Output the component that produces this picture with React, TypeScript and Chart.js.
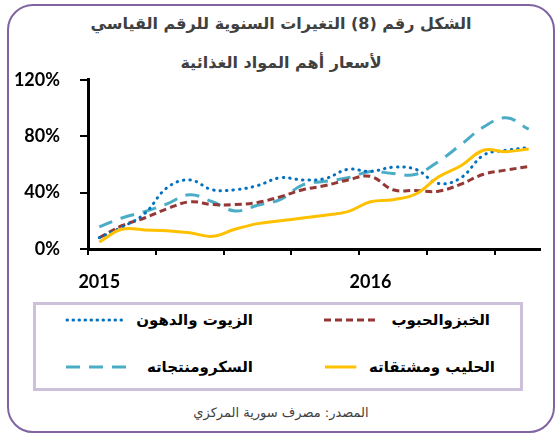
import React, { useEffect, useRef } from "react";
import { Chart, registerables } from "chart.js";

Chart.register(...registerables);

// ---- data ----
const months = [
  "2015-01", "2015-02", "2015-03", "2015-04", "2015-05", "2015-06", "2015-07", "2015-08", "2015-09", "2015-10",
  "2015-11", "2015-12", "2016-01", "2016-02", "2016-03", "2016-04", "2016-05", "2016-06", "2016-07", "2016-08",
];
const yearTickLabels: Record<number, string> = { 0: "2015", 12: "2016" };
const yTicks = [0, 0.4, 0.8, 1.2];

const breadCereals = [0.08, 0.165, 0.22, 0.285, 0.335, 0.315, 0.315, 0.33, 0.37, 0.42, 0.45, 0.49, 0.515, 0.42, 0.415, 0.41, 0.46, 0.53, 0.56, 0.585];
const oilsFats = [0.08, 0.155, 0.25, 0.435, 0.49, 0.42, 0.42, 0.45, 0.505, 0.49, 0.5, 0.565, 0.55, 0.58, 0.565, 0.465, 0.505, 0.665, 0.7, 0.72];
const milkProducts = [0.05, 0.14, 0.135, 0.13, 0.115, 0.09, 0.14, 0.18, 0.2, 0.22, 0.24, 0.265, 0.335, 0.35, 0.39, 0.51, 0.59, 0.7, 0.69, 0.71];
const sugarProducts = [0.157, 0.22, 0.265, 0.32, 0.385, 0.335, 0.27, 0.31, 0.35, 0.455, 0.48, 0.505, 0.55, 0.535, 0.53, 0.62, 0.74, 0.865, 0.93, 0.85];

const seriesNames = ["الخبزوالحبوب", "الزيوت والدهون", "الحليب ومشتقاته", "السكرومنتجاته"];
const titleLines = ["الشكل رقم (8) التغيرات السنوية للرقم القياسي", "لأسعار أهم المواد الغذائية"];
const sourceText = "المصدر: مصرف سورية المركزي";

const COLORS = {
  bread: "#953735",
  oils: "#0070C0",
  milk: "#FFC000",
  sugar: "#4BACC6",
};

const arabicFont = '"DejaVu Sans", sans-serif';
const numFont = 'Lato, "Open Sans", sans-serif';

function LegendItem({
  label,
  color,
  dash,
  cap,
  left,
  right,
  y,
}: {
  label: string;
  color: string;
  dash?: string;
  cap?: string;
  left: number;
  right: number;
  y: number;
}) {
  return (
    <div
      style={{
        position: "absolute",
        left,
        width: right - left,
        top: y - 12,
        height: 24,
        display: "flex",
        flexDirection: "row",
        alignItems: "center",
        gap: 12,
      }}
    >
      <svg height={8} style={{ flex: 1, minWidth: 0, display: "block" }}>
        <line
          x1={cap === "round" ? 2 : 0}
          y1={4}
          x2="98%"
          y2={4}
          stroke={color}
          strokeWidth={3}
          strokeDasharray={dash}
          strokeLinecap={(cap as any) || "butt"}
        />
      </svg>
      <span
        style={{
          fontFamily: arabicFont,
          fontWeight: "bold",
          fontSize: 15,
          lineHeight: "24px",
          color: "#000",
          whiteSpace: "nowrap",
          direction: "rtl",
        }}
      >
        {label}
      </span>
    </div>
  );
}

export default function App() {
  const canvasRef = useRef<HTMLCanvasElement | null>(null);

  useEffect(() => {
    const canvas = canvasRef.current;
    if (!canvas) return;
    const chart = new Chart(canvas, {
      type: "line",
      data: {
        labels: months,
        datasets: [
          {
            label: seriesNames[2],
            data: milkProducts,
            borderColor: COLORS.milk,
            borderWidth: 3,
            pointRadius: 0,
            tension: 0.4,
            fill: false,
          },
          {
            label: seriesNames[1],
            data: oilsFats,
            borderColor: COLORS.oils,
            borderWidth: 3,
            borderDash: [0.5, 6],
            borderCapStyle: "round",
            pointRadius: 0,
            tension: 0.4,
            fill: false,
          },
          {
            label: seriesNames[0],
            data: breadCereals,
            borderColor: COLORS.bread,
            borderWidth: 3,
            borderDash: [7, 4],
            pointRadius: 0,
            tension: 0.4,
            fill: false,
          },
          {
            label: seriesNames[3],
            data: sugarProducts,
            borderColor: COLORS.sugar,
            borderWidth: 3,
            borderDash: [14, 9],
            pointRadius: 0,
            tension: 0.4,
            fill: false,
          },
        ],
      },
      options: {
        responsive: false,
        animation: false,
        devicePixelRatio: 1,
        layout: { padding: { top: 10, right: 17, left: 0, bottom: 0 } },
        plugins: {
          legend: { display: false },
          title: { display: false },
          tooltip: { enabled: false },
        },
        scales: {
          x: {
            type: "category",
            offset: true,
            afterFit: (scale: any) => {
              scale.height = 51;
            },
            border: { display: true, color: "#000", width: 3 },
            grid: {
              offset: true,
              drawOnChartArea: false,
              drawTicks: true,
              tickLength: 6,
              lineWidth: 2,
              color: (ctx: any) => (ctx.index % 3 === 0 ? "#000" : "rgba(0,0,0,0)"),
            },
            ticks: {
              autoSkip: false,
              maxRotation: 0,
              minRotation: 0,
              padding: 16,
              color: "#000",
              font: { family: numFont, size: 18, weight: "bold" },
              callback: (_v: any, index: number) => yearTickLabels[index] ?? "",
            },
          },
          y: {
            min: 0,
            max: 1.2,
            afterFit: (scale: any) => {
              scale.width = 88;
            },
            afterBuildTicks: (scale: any) => {
              scale.ticks = yTicks.map((v) => ({ value: v }));
            },
            border: { display: true, color: "#000", width: 3 },
            grid: {
              drawOnChartArea: false,
              drawTicks: true,
              tickLength: 8,
              lineWidth: 2,
              color: "#000",
            },
            ticks: {
              padding: 20,
              color: "#000",
              font: { family: numFont, size: 18, weight: "bold" },
              callback: (v: any) => Math.round(Number(v) * 100) + "%",
            },
          },
        },
      },
    });
    return () => chart.destroy();
  }, []);

  return (
    <div style={{ position: "fixed", left: 0, top: 0, width: 557, height: 436, background: "#fff", overflow: "hidden" }}>
      <div
        style={{
          position: "absolute",
          left: 7,
          top: 4,
          width: 548,
          height: 429,
          boxSizing: "border-box",
          border: "2px solid #8064A2",
          borderRadius: 26,
        }}
      />
      <div
        style={{
          position: "absolute",
          left: 7,
          top: 4,
          width: 548,
          textAlign: "center",
          direction: "rtl",
          fontFamily: arabicFont,
          fontWeight: "bold",
          fontSize: 16,
          lineHeight: "39px",
          color: "#404040",
        }}
      >
        <div>{titleLines[0]}</div>
        <div>{titleLines[1]}</div>
      </div>
      <canvas
        ref={canvasRef}
        width={557}
        height={251}
        style={{ position: "absolute", left: 0, top: 49, width: 557, height: 251 }}
      />
      <div
        style={{
          position: "absolute",
          left: 33,
          top: 302,
          width: 490,
          height: 89,
          boxSizing: "border-box",
          border: "3px solid #CCC0DA",
        }}
      />
      <LegendItem label={seriesNames[0]} color={COLORS.bread} dash="7 4" left={324} right={490} y={320} />
      <LegendItem label={seriesNames[1]} color={COLORS.oils} dash="0.5 5.5" cap="round" left={65} right={253} y={320} />
      <LegendItem label={seriesNames[2]} color={COLORS.milk} left={325} right={495} y={367} />
      <LegendItem label={seriesNames[3]} color={COLORS.sugar} dash="14 9" left={66} right={253} y={367} />
      <div
        style={{
          position: "absolute",
          left: 7,
          top: 401,
          width: 548,
          textAlign: "center",
          direction: "rtl",
          fontFamily: arabicFont,
          fontSize: 13,
          color: "#404040",
          lineHeight: "24px",
        }}
      >
        {sourceText}
      </div>
    </div>
  );
}
